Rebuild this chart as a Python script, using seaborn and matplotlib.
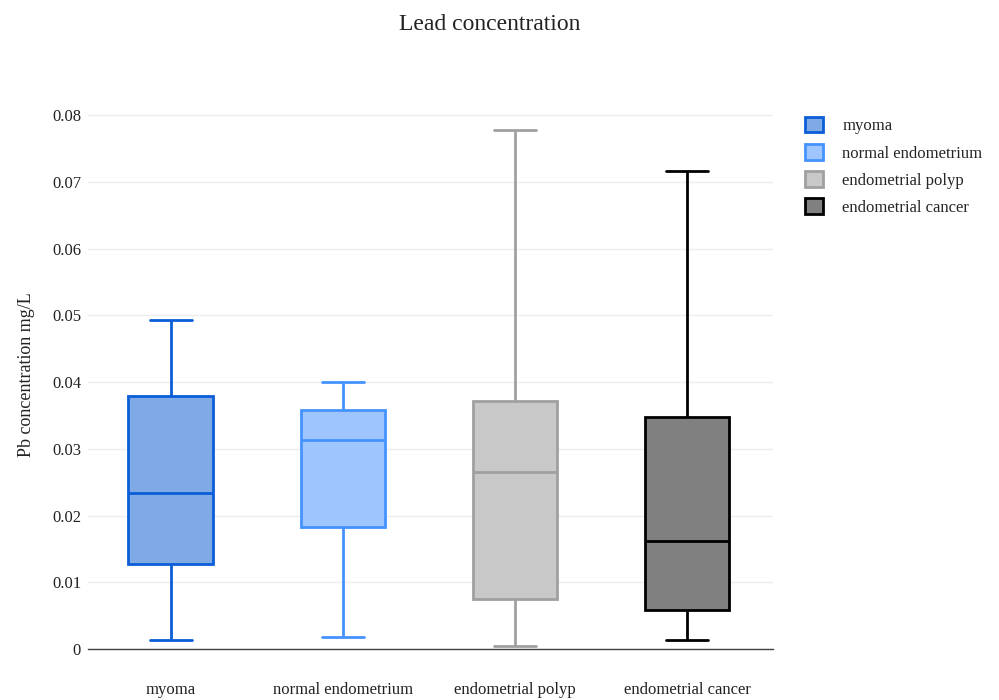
import numpy as np
import pandas as pd
import matplotlib
matplotlib.use("Agg")
import matplotlib.pyplot as plt
import seaborn as sns
from matplotlib.patches import Patch

categories = ["myoma", "normal endometrium", "endometrial polyp", "endometrial cancer"]
# five-number summaries: min, Q1, median, Q3, max
lower = [0.0013, 0.0018, 0.0004, 0.0013]
q1 = [0.0127, 0.0183, 0.0075, 0.0058]
median = [0.0234, 0.0313, 0.0265, 0.0162]
q3 = [0.0379, 0.0358, 0.0372, 0.0348]
upper = [0.0493, 0.0401, 0.0778, 0.0716]
yticks = [0, 0.01, 0.02, 0.03, 0.04, 0.05, 0.06, 0.07, 0.08]
ytick_labels = ["0", "0.01", "0.02", "0.03", "0.04", "0.05", "0.06", "0.07", "0.08"]

fill_colors = ["#7faae6", "#9fc5ff", "#c8c8c8", "#808080"]
edge_colors = ["#0b5ed8", "#4593ff", "#a0a0a0", "#000000"]

rows = []
for i, c in enumerate(categories):
    for v in (lower[i], q1[i], median[i], q3[i], upper[i]):
        rows.append({"group": c, "value": v})
df = pd.DataFrame(rows)

sns.set_theme(style="white")
plt.rcParams["font.family"] = ["Liberation Serif", "DejaVu Serif"]

fig = plt.figure(figsize=(9.99, 7.0), dpi=100)
ax = fig.add_axes([88 / 999, 51 / 700, (773 - 88) / 999, (649 - 100) / 700])

for i, c in enumerate(categories):
    sub = df[df["group"] == c]
    sns.boxplot(data=sub, x="group", y="value", order=categories, ax=ax,
                color=fill_colors[i], linecolor=edge_colors[i], saturation=1,
                width=0.49, whis=(0, 100), linewidth=2.0, fliersize=0)

ax.set_xlim(-0.48, 3.5)
ax.set_ylim(0, 0.0823)
ax.set_yticks(yticks)
ax.set_yticklabels(ytick_labels, fontsize=12, color="#222222")
ax.tick_params(axis="y", length=0, pad=5)
ax.tick_params(axis="x", length=0, pad=24, labelsize=12, labelcolor="#222222")
ax.set_xlabel("")
ax.set_ylabel("Pb concentration mg/L", fontsize=13, color="#222222", labelpad=12)
ax.grid(axis="y", color="#eeeeee", linewidth=1)
ax.set_axisbelow(True)
for s in ["left", "right", "top"]:
    ax.spines[s].set_visible(False)
ax.spines["bottom"].set_color("#444444")
ax.spines["bottom"].set_linewidth(1)

handles = [Patch(facecolor=fill_colors[i], edgecolor=edge_colors[i], linewidth=2, label=c)
           for i, c in enumerate(categories)]
fig.legend(handles=handles, loc="upper left", bbox_to_anchor=(805 / 999, 1 - 117 / 700),
           frameon=False, fontsize=12, handlelength=1.05, handleheight=1.05,
           handletextpad=1.2, labelspacing=0.58, borderaxespad=0, borderpad=0)

fig.text(490 / 999, 1 - 25 / 700, "Lead concentration", ha="center", va="center",
         fontsize=17, color="#222222")

fig.savefig("out.png", dpi=100)
